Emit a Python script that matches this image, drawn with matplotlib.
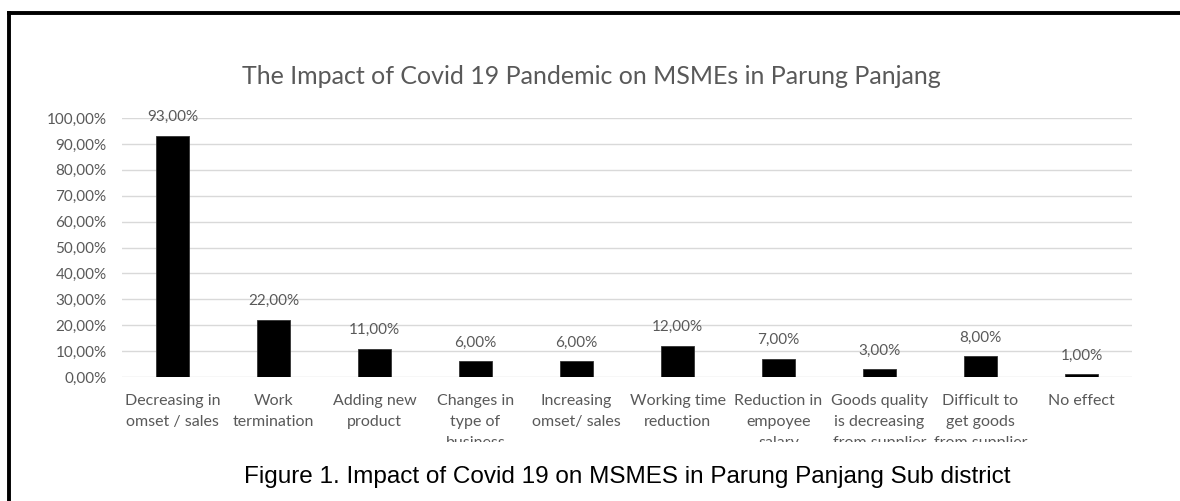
"""Bar chart: impact of Covid 19 on MSMEs in Parung Panjang (Excel-style look)."""

import matplotlib

matplotlib.use("Agg")
import matplotlib.pyplot as plt  # noqa: E402
from matplotlib.lines import Line2D  # noqa: E402
from matplotlib.transforms import Bbox, TransformedBbox  # noqa: E402

categories = [
    "Decreasing in\nomset / sales",
    "Work\ntermination",
    "Adding new\nproduct",
    "Changes in\ntype of\nbusiness",
    "Increasing\nomset/ sales",
    "Working time\nreduction",
    "Reduction in\nempoyee\nsalary",
    "Goods quality\nis decreasing\nfrom supplier",
    "Difficult to\nget goods\nfrom supplier",
    "No effect",
]
shares = [93.0, 22.0, 11.0, 6.0, 6.0, 12.0, 7.0, 3.0, 8.0, 1.0]
yticks = [0, 10, 20, 30, 40, 50, 60, 70, 80, 90, 100]

TITLE = "The Impact of Covid 19 Pandemic on MSMEs in Parung Panjang"
CAPTION = "Figure 1. Impact of Covid 19 on MSMES in Parung Panjang Sub district"

W, H = 1180, 501
GRAY = "#595959"


def pct(v):
    return f"{v:.2f}%".replace(".", ",")


fig = plt.figure(figsize=(W / 100, H / 100), dpi=100)
ax = fig.add_axes([122 / W, 1 - 377 / H, (1132 - 122) / W, (377 - 118) / H])

x = range(len(categories))
bars = ax.bar(x, shares, width=0.32, color="black", edgecolor="#333333", linewidth=0.6, zorder=3)
for b, v in zip(bars, shares):
    ax.annotate(pct(v), (b.get_x() + b.get_width() / 2, v), xytext=(0, 13.5),
                textcoords="offset points", ha="center", va="center",
                color=GRAY, fontsize=11, family="Lato", zorder=4)

ax.set_xlim(-0.5, len(categories) - 0.5)
ax.set_ylim(0, 100)
ax.set_yticks(yticks)
ax.set_yticklabels([pct(v) for v in yticks], color=GRAY, fontsize=11, family="Lato")
ax.set_xticks(list(x))
ax.set_xticklabels(categories, color=GRAY, fontsize=11.5, family="Lato", linespacing=1.62)
ax.tick_params(axis="both", length=0)
ax.tick_params(axis="y", pad=11)
ax.tick_params(axis="x", pad=12.5)
ax.grid(axis="y", color="#d9d9d9", linewidth=1, zorder=0)
ax.set_axisbelow(True)
for s in ax.spines.values():
    s.set_visible(False)

# third lines of the category labels are cut off in the original chart box
clip_box = TransformedBbox(Bbox([[0, (H - 442) / H], [1, 1]]), fig.transFigure)
for lbl in ax.get_xticklabels():
    lbl.set_clip_box(clip_box)
    lbl.set_clip_on(True)

fig.text(591 / W, 1 - 84 / H, TITLE, ha="center", va="baseline",
         fontsize=18, color=GRAY, family="Lato")
fig.text(627 / W, 1 - 483 / H, CAPTION, ha="center", va="baseline",
         fontsize=17.5, color="black", family="Liberation Sans")

# thick frame around the figure (left and top edges are visible)
fig.add_artist(Line2D([8.5 / W, 8.5 / W], [-0.1, 1 - 12.5 / H], transform=fig.transFigure,
                      color="black", linewidth=2.8, solid_capstyle="projecting"))
fig.add_artist(Line2D([8.5 / W, 1.1], [1 - 12.5 / H, 1 - 12.5 / H], transform=fig.transFigure,
                      color="black", linewidth=2.8, solid_capstyle="projecting"))

fig.savefig("out.png", dpi=100)
